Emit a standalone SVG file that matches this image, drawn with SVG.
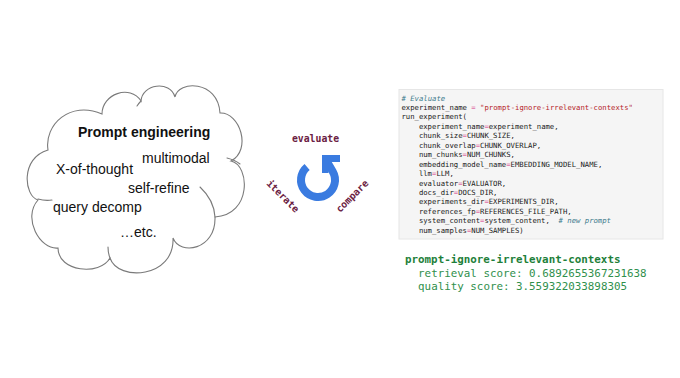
<svg xmlns="http://www.w3.org/2000/svg" width="680" height="378" viewBox="0 0 680 378">
<style>
.cloud{fill:#fff;stroke:#7a7a7a;stroke-width:1.1;stroke-linecap:round}
.inner{fill:none;stroke:#7a7a7a;stroke-width:1.1;stroke-linecap:round}
.ct{font-family:"Liberation Sans",Arial,sans-serif;font-size:14px;fill:#111}
.lbl{font-family:"DejaVu Sans Mono",monospace;font-size:9.8px;font-weight:bold;fill:#6b2142}
.code{font-family:"DejaVu Sans Mono",monospace;font-size:7.25px;fill:#1a1a1a;white-space:pre}
.op{fill:#d63384}
.str{fill:#b5262b}
.cm{fill:#3b7a8c;font-style:italic}
.res{font-family:"DejaVu Sans Mono",monospace;font-size:10.85px;white-space:pre}
</style>
<rect width="680" height="378" fill="#fff"/>
<g id="connectors"></g>
<g id="cloud">
<path class="cloud" d="M 38,200 C 24,196 20,158 48,150 C 44,125 70,100 102,114 C 102,94 130,84 141,101 C 142,84 170,80 175,97 C 178,80 218,80 220,113 C 240,112 252,150 231,161 C 250,165 252,215 215,217 C 216,250 180,256 173,238 C 175,278 118,282 110,258 C 100,276 58,272 58,248 C 40,250 22,218 38,200 Z"/>
<path class="inner" d="M 38,199 Q 45,201 52,200"/>
<path class="inner" d="M 200,187 Q 214,200 215,217"/>
<path class="inner" d="M 108,247 Q 108,253 110,258"/>
<path class="inner" d="M 227,158 Q 235,160 240,164"/>
<path class="inner" d="M 137,106 Q 139,103 141,101"/>
<text class="ct" x="78" y="137" font-weight="bold">Prompt engineering</text>
<text class="ct" x="142" y="163">multimodal</text>
<text class="ct" x="56" y="174">X-of-thought</text>
<text class="ct" x="128" y="193">self-refine</text>
<text class="ct" x="53" y="212">query decomp</text>
<text class="ct" x="120" y="237">…etc.</text>
</g>
<g id="cycle">
<path d="M 307.1,167 A 17 17 0 1 0 332.7,171.5 L 326,160" fill="none" stroke="#3a7be0" stroke-width="8"/>
<polygon points="322,155 340,155 340,162 328.5,162 328.5,173 322,173" fill="#3a7be0"/>
<text class="lbl" x="315.5" y="142" text-anchor="middle">evaluate</text>
<text class="lbl" transform="translate(283,196) rotate(45)" text-anchor="middle" y="3.5">iterate</text>
<text class="lbl" transform="translate(352,196) rotate(-45)" text-anchor="middle" y="3.5">compare</text>
</g>
<g id="code">
<rect x="399" y="89.5" width="264" height="149.5" fill="#f5f5f5" stroke="#e6e6e6" stroke-width="1"/>
<text class="code" xml:space="preserve"><tspan class="cm" x="401.5" y="100.5"># Evaluate</tspan><tspan x="401.5" y="109.95">experiment_name <tspan class="op">=</tspan> <tspan class="str">"prompt-ignore-irrelevant-contexts"</tspan></tspan><tspan x="401.5" y="119.4">run_experiment(</tspan><tspan x="418.9" y="128.85">experiment_name<tspan class="op">=</tspan>experiment_name,</tspan><tspan x="418.9" y="138.3">chunk_size<tspan class="op">=</tspan>CHUNK_SIZE,</tspan><tspan x="418.9" y="147.75">chunk_overlap<tspan class="op">=</tspan>CHUNK_OVERLAP,</tspan><tspan x="418.9" y="157.2">num_chunks<tspan class="op">=</tspan>NUM_CHUNKS,</tspan><tspan x="418.9" y="166.65">embedding_model_name<tspan class="op">=</tspan>EMBEDDING_MODEL_NAME,</tspan><tspan x="418.9" y="176.1">llm<tspan class="op">=</tspan>LLM,</tspan><tspan x="418.9" y="185.55">evaluator<tspan class="op">=</tspan>EVALUATOR,</tspan><tspan x="418.9" y="195">docs_dir<tspan class="op">=</tspan>DOCS_DIR,</tspan><tspan x="418.9" y="204.45">experiments_dir<tspan class="op">=</tspan>EXPERIMENTS_DIR,</tspan><tspan x="418.9" y="213.9">references_fp<tspan class="op">=</tspan>REFERENCES_FILE_PATH,</tspan><tspan x="418.9" y="223.35">system_content<tspan class="op">=</tspan>system_content,  <tspan class="cm"># new prompt</tspan></tspan><tspan x="418.9" y="232.8">num_samples<tspan class="op">=</tspan>NUM_SAMPLES)</tspan></text>
</g>
<g id="results">
<text class="res" x="405" y="263.3" font-weight="bold" fill="#1e7f3a">prompt-ignore-irrelevant-contexts</text>
<text class="res" x="418.1" y="277.3" fill="#2f8f4c">retrieval score: 0.6892655367231638</text>
<text class="res" x="418.1" y="290.3" fill="#2f8f4c">quality score: 3.559322033898305</text>
</g>
</svg>
